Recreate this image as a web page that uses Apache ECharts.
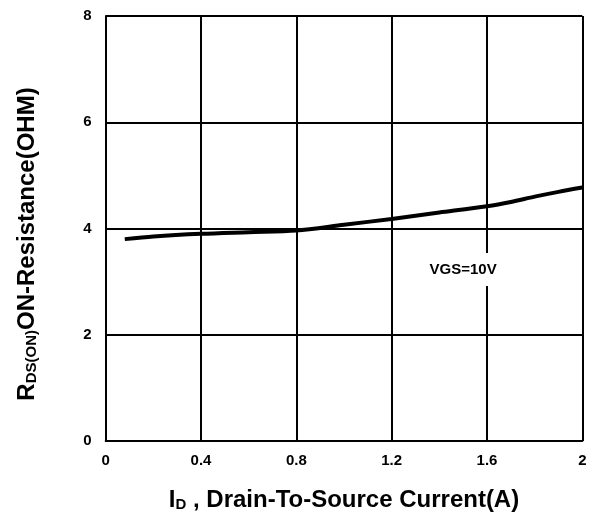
<!DOCTYPE html>
<html>
<head>
<meta charset="utf-8">
<script src="https://cdn.jsdelivr.net/npm/echarts@6/dist/echarts.min.js"></script>
<style>html,body{margin:0;padding:0;background:#fff}#c{width:593px;height:517px}</style>
</head>
<body>
<div id="c"></div>
<script>
var currentA = [0.08, 0.2, 0.4, 0.6, 0.8, 1.0, 1.2, 1.4, 1.6, 1.7, 1.8, 1.9, 2.0];
var resistanceOhm = [3.80, 3.85, 3.90, 3.93, 3.96, 4.07, 4.18, 4.30, 4.42, 4.50, 4.60, 4.69, 4.77];
var xTicks = [0, 0.4, 0.8, 1.2, 1.6, 2];
var yTicks = [0, 2, 4, 6, 8];
var annotation = {x: 1.5, y: 3.23, text: 'VGS=10V'};

var font = 'Liberation Sans, Arial, sans-serif';
var chart = echarts.init(document.getElementById('c'));
chart.setOption({
  animation: false,
  grid: {left: 105.7, right: 10.7, top: 16, bottom: 74, containLabel: false},
  xAxis: {
    type: 'value', min: 0, max: 2, interval: 0.4,
    axisLine: {show: true, lineStyle: {color: '#000', width: 2}},
    axisTick: {show: false},
    splitLine: {show: true, lineStyle: {color: '#000', width: 2}},
    axisLabel: {color: '#000', fontWeight: 'bold', fontSize: 15, fontFamily: font, margin: 12,
      formatter: function (v) { return String(parseFloat(v.toFixed(1))); }},
    name: '{m|I}{s|D}{m| , Drain-To-Source Current(A)}',
    nameLocation: 'middle', nameGap: 47,
    nameTextStyle: {rich: {
      m: {fontSize: 24, fontWeight: 'bold', fontFamily: font, color: '#000'},
      s: {fontSize: 15, fontWeight: 'bold', fontFamily: font, color: '#000', verticalAlign: 'bottom', padding: [9, 0, 0, 0]}
    }}
  },
  yAxis: {
    type: 'value', min: 0, max: 8, interval: 2,
    axisLine: {show: true, lineStyle: {color: '#000', width: 2}},
    axisTick: {show: false},
    splitLine: {show: true, lineStyle: {color: '#000', width: 2}},
    axisLabel: {color: '#000', fontWeight: 'bold', fontSize: 15, fontFamily: font, margin: 14},
    name: '{m|R}{s|DS(ON)}{m|ON-Resistance(OHM)}',
    nameLocation: 'middle', nameGap: 66, nameRotate: 90,
    nameTextStyle: {padding: [0, 31, 0, 0], rich: {
      m: {fontSize: 24, fontWeight: 'bold', fontFamily: font, color: '#000'},
      s: {fontSize: 15, fontWeight: 'bold', fontFamily: font, color: '#000', verticalAlign: 'bottom', padding: [9, 0, 0, 0]}
    }}
  },
  series: [{
    type: 'line',
    data: currentA.map(function (x, i) { return [x, resistanceOhm[i]]; }),
    smooth: 0.3,
    showSymbol: false,
    lineStyle: {color: '#000', width: 4},
    z: 5,
    markPoint: {
      symbol: 'rect', symbolSize: 0,
      data: [{coord: [annotation.x, annotation.y], value: annotation.text}],
      label: {show: true, formatter: annotation.text, color: '#000', fontWeight: 'bold', fontSize: 15,
        fontFamily: font, backgroundColor: '#fff', padding: [9, 4]}
    }
  }]
});
</script>
</body>
</html>
